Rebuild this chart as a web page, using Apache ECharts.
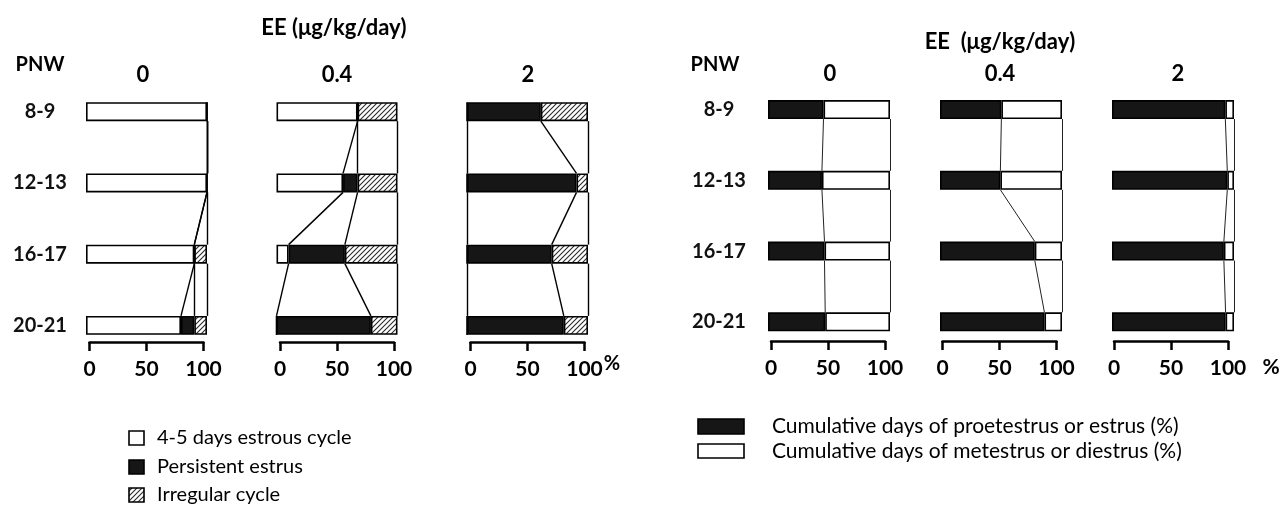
<!DOCTYPE html>
<html><head><meta charset="utf-8">
<script src="https://cdn.jsdelivr.net/npm/echarts@6.0.0/dist/echarts.min.js"></script>
<style>html,body{margin:0;padding:0;background:#fff}#c{width:1283px;height:506px}</style>
</head><body><div id="c"></div>
<script>
// ---- categories / labels ----
const pnwLabels = ['8-9', '12-13', '16-17', '20-21'];
const doseLabels = ['0', '0.4', '2'];

// ---- Left panel: estrous cycle pattern (% of animals) ----
const regular_0    = [100, 100, 89.5, 78.5];
const persistent_0 = [0, 0, 0, 11];
const irregular_0  = [0, 0, 10.5, 10.5];
const regular_04    = [67, 55, 10, 0];
const persistent_04 = [0, 12, 46.5, 78];
const irregular_04  = [33, 33, 43.5, 22];
const regular_2    = [0, 0, 0, 0];
const persistent_2 = [61, 90.5, 70, 80];
const irregular_2  = [39, 9.5, 30, 20];

// ---- Right panel: cumulative days (%) ----
const proestrus_0  = [45.5, 44.2, 46.3, 46.9];
const metestrus_0  = [54.5, 55.8, 53.7, 53.1];
const proestrus_04 = [50.3, 49.5, 77.7, 85.6];
const metestrus_04 = [49.7, 50.5, 22.3, 14.4];
const proestrus_2  = [92.9, 94.5, 91.7, 93.1];
const metestrus_2  = [7.1, 5.5, 8.3, 6.9];

const leftNames = ['4-5 days estrous cycle', 'Persistent estrus', 'Irregular cycle'];
const rightNames = ['Cumulative days of proetestrus or estrus (%)', 'Cumulative days of metestrus or diestrus (%)'];

// ---- styling ----
const FONT = 'Lato, "Open Sans", "DejaVu Sans", sans-serif';
const BAR_H = 19;
const DARK = '#161616';
const hatch = document.createElement('canvas');
hatch.width = 5; hatch.height = 5;
(function () {
  const c = hatch.getContext('2d');
  c.fillStyle = '#fff'; c.fillRect(0, 0, 5, 5);
  c.strokeStyle = '#2a2a2a'; c.lineWidth = 1.1;
  c.beginPath();
  c.moveTo(0, 5); c.lineTo(5, 0);
  c.moveTo(-1, 1); c.lineTo(1, -1);
  c.moveTo(4, 6); c.lineTo(6, 4);
  c.stroke();
})();
const hatchFill = { image: hatch, repeat: 'repeat' };

const panels = [
  {
    sets: [[regular_0, persistent_0, irregular_0], [regular_04, persistent_04, irregular_04], [regular_2, persistent_2, irregular_2]],
    names: leftNames, colors: ['#fff', DARK, hatchFill],
    barX: [86, 276.5, 467], barW: 121, axX: [89.5, 280, 470.5],
    gridTop: 76, gridH: 285, axisY: 342, labelMargin: 46,
    lineW: 1.4, lineColor: '#000'
  },
  {
    sets: [[proestrus_0, metestrus_0], [proestrus_04, metestrus_04], [proestrus_2, metestrus_2]],
    names: rightNames, colors: [DARK, '#fff'],
    barX: [768, 940, 1112], barW: 122, axX: [771, 942.5, 1114],
    gridTop: 74.2, gridH: 283, axisY: 341, labelMargin: 49,
    lineW: 1, lineColor: '#222'
  }
];

function crisp(x) { return Math.round(x - 0.5) + 0.5; }

const grid = [], xAxis = [], yAxis = [], series = [];
panels.forEach(function (P, pi) {
  P.sets.forEach(function (set, j) {
    const nSeg = set.length;
    let g = grid.length;
    grid.push({ left: P.barX[j], top: P.gridTop, width: P.barW, height: P.gridH });
    xAxis.push({ gridIndex: g, type: 'value', min: 0, max: 100, show: false });
    yAxis.push({
      gridIndex: g, type: 'category', data: pnwLabels, inverse: true,
      axisLine: { show: false }, axisTick: { show: false }, splitLine: { show: false },
      axisLabel: { show: j === 0, align: 'center', margin: P.labelMargin, fontSize: 20, fontWeight: 'bold', color: '#111', fontFamily: FONT }
    });
    set.forEach(function (vals, k) {
      series.push({
        type: 'bar', name: P.names[k], stack: 's' + g, xAxisIndex: g, yAxisIndex: g,
        data: vals, barWidth: BAR_H, z: 3, silent: true,
        itemStyle: { color: P.colors[k], borderColor: '#000', borderWidth: 1.6 }
      });
    });
    const lineData = [];
    for (let i = 0; i < pnwLabels.length - 1; i++) {
      const item = [i];
      let c = 0;
      for (let k = 0; k < nSeg; k++) { c += set[k][i]; item.push(c); }
      c = 0;
      for (let k = 0; k < nSeg; k++) { c += set[k][i + 1]; item.push(c); }
      lineData.push(item);
    }
    const xDims = [];
    for (let d = 1; d <= 2 * nSeg; d++) xDims.push(d);
    series.push({
      type: 'custom', xAxisIndex: g, yAxisIndex: g, z: 6, silent: true, clip: false,
      encode: { x: xDims, y: 0 },
      data: lineData,
      renderItem: function (params, api) {
        const i = api.value(0);
        const children = [];
        for (let k = 0; k < nSeg; k++) {
          const p1 = api.coord([api.value(1 + k), i]);
          const p2 = api.coord([api.value(1 + nSeg + k), i + 1]);
          let x1 = p1[0], x2 = p2[0];
          if (Math.abs(x1 - x2) < 0.01) { x1 = x2 = crisp(x1); }
          children.push({
            type: 'line', z2: 10,
            shape: { x1: x1, y1: p1[1] + BAR_H / 2, x2: x2, y2: p2[1] - BAR_H / 2 },
            style: { stroke: P.lineColor, lineWidth: P.lineW }
          });
        }
        return { type: 'group', children: children };
      }
    });
    g = grid.length;
    grid.push({ left: P.axX[j], top: P.axisY - 10, width: 114, height: 10 });
    xAxis.push({
      gridIndex: g, type: 'value', min: 0, max: 100, interval: 50,
      axisLine: { show: true, lineStyle: { color: '#000', width: 2.5 } },
      axisTick: { show: true, length: 9, lineStyle: { color: '#000', width: 2.5 } },
      splitLine: { show: false },
      axisLabel: { margin: 17, fontSize: 21, fontWeight: 'bold', color: '#000', fontFamily: FONT }
    });
    yAxis.push({ gridIndex: g, type: 'value', min: 0, max: 1, show: false });
  });
});

function txt(x, y, s, size, weight, align) {
  return { type: 'text', x: x, y: y, silent: true,
    style: { text: s, fontSize: size, fontWeight: weight || 'bold', fontFamily: FONT, fill: '#000',
      align: align || 'center', verticalAlign: 'middle' } };
}
function box(x, y, w, h, fill) {
  return { type: 'rect', silent: true, shape: { x: x, y: y, width: w, height: h },
    style: { fill: fill, stroke: '#000', lineWidth: 1.6 } };
}

const graphic = [
  txt(334, 28, 'EE (\u03bcg/kg/day)', 22),
  txt(40, 65, 'PNW', 20),
  txt(143, 75, doseLabels[0], 22), txt(337, 75, doseLabels[1], 22), txt(528, 75, doseLabels[2], 22),
  txt(612, 364, '%', 20),
  txt(1000, 42, 'EE  (\u03bcg/kg/day)', 22),
  txt(715, 65, 'PNW', 20),
  txt(830, 74, doseLabels[0], 22), txt(1000, 74, doseLabels[1], 22), txt(1178, 74, doseLabels[2], 22),
  txt(1271, 367, '%', 21),
  box(129, 431, 15, 14, '#fff'), txt(157, 438, leftNames[0], 20, 'normal', 'left'),
  box(129, 460, 15, 14, DARK), txt(157, 467, leftNames[1], 20, 'normal', 'left'),
  box(129, 488, 15, 14, hatchFill), txt(157, 495, leftNames[2], 20, 'normal', 'left'),
  box(698, 419, 46, 15, DARK), txt(772, 426, rightNames[0], 21, 'normal', 'left'),
  box(698, 444, 46, 14, '#fff'), txt(772, 451, rightNames[1], 21, 'normal', 'left')
];

const chart = echarts.init(document.getElementById('c'), null, { renderer: 'canvas' });
chart.setOption({
  animation: false,
  backgroundColor: '#fff',
  grid: grid, xAxis: xAxis, yAxis: yAxis, series: series, graphic: graphic
});
</script></body></html>
